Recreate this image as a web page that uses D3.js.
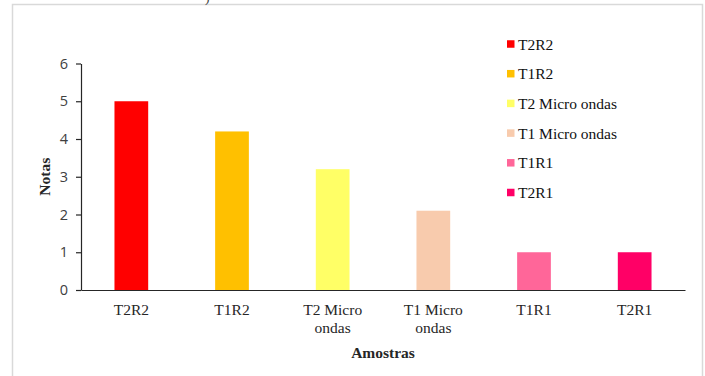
<!DOCTYPE html>
<html><head><meta charset="utf-8">
<script src="https://cdn.jsdelivr.net/npm/d3@7"></script>
<style>
html,body{margin:0;padding:0;background:#fff;}
.serif{font-family:"Liberation Serif","Times New Roman",Times,serif;}
.sans{font-family:"Open Sans","Noto Sans",sans-serif;}
</style>
</head><body>
<script>
const categories = ["T2R2","T1R2","T2 Micro ondas","T1 Micro ondas","T1R1","T2R1"];
const axisLabels = [["T2R2"],["T1R2"],["T2 Micro","ondas"],["T1 Micro","ondas"],["T1R1"],["T2R1"]];
const values = [5, 4.2, 3.2, 2.1, 1, 1];
const colors = ["#FF0000","#FFC000","#FFFF66","#F8CBAD","#FF6699","#FF0066"];
const yTicks = [0,1,2,3,4,5,6];

const W = 705, H = 376;
const svg = d3.select("body").append("svg").attr("width", W).attr("height", H);

// outer frame
svg.append("rect").attr("x", 12.5).attr("y", 4.5).attr("width", 690).attr("height", 400)
  .attr("fill", "none").attr("stroke", "#d9d9d9").attr("stroke-width", 1.5);
// partial caption remnant at top
svg.append("text").attr("class","serif").attr("x", 205).attr("y", 2)
  .attr("font-size", 14).attr("fill", "#444").text(")");

const x0 = 81, x1 = 685, yBase = 290, yTop = 63.5;
const x = d3.scaleBand().domain(categories).range([x0, x1]).paddingInner(0.665).paddingOuter(0.3325);
const y = d3.scaleLinear().domain([0, 6]).range([yBase, yTop]);

// bars
svg.selectAll("rect.bar").data(values).join("rect").attr("class","bar")
  .attr("x", (d,i) => x(categories[i]))
  .attr("width", x.bandwidth())
  .attr("y", d => y(d))
  .attr("height", d => y(0) - y(d))
  .attr("fill", (d,i) => colors[i]);

// y axis
const yAxis = svg.append("g").attr("transform", `translate(${x0},0)`)
  .call(d3.axisLeft(y).tickValues(yTicks).tickFormat(d3.format("d")).tickSize(5).tickSizeOuter(0).tickPadding(8));
yAxis.attr("font-family", null);
yAxis.select(".domain").attr("stroke", "#262626").attr("stroke-width", 1.2);
yAxis.selectAll(".tick line").attr("stroke", "#262626").attr("stroke-width", 1.2);
yAxis.selectAll(".tick text").attr("class","sans").attr("font-size", 14.5).attr("fill", "#404040");

// x axis
const xAxis = svg.append("g").attr("transform", `translate(0,${yBase})`)
  .call(d3.axisBottom(x).tickSize(0).tickFormat(""));
xAxis.attr("font-family", null);
xAxis.select(".domain").attr("stroke", "#262626").attr("stroke-width", 1.2);
xAxis.selectAll(".tick").each(function(d, i) {
  const t = d3.select(this).append("text").attr("class","serif")
    .attr("font-size", 15.5).attr("fill", "#262626").attr("text-anchor", "middle");
  axisLabels[i].forEach((line, j) => {
    t.append("tspan").attr("x", 0).attr("y", 25 + j * 17.5).text(line);
  });
});

// axis titles
svg.append("text").attr("class","serif").attr("x", 383).attr("y", 358).attr("text-anchor", "middle")
  .attr("font-weight", "bold").attr("font-size", 15.5)
  .attr("fill", "#262626").text("Amostras");
svg.append("text").attr("class","serif").attr("transform", `translate(50,${(yBase + yTop) / 2}) rotate(-90)`)
  .attr("text-anchor", "middle").attr("font-weight", "bold")
  .attr("font-size", 15.5).attr("fill", "#262626").text("Notas");

// legend
const leg = svg.append("g");
categories.forEach((c, i) => {
  const cy = 44 + i * 29.7;
  leg.append("rect").attr("x", 507).attr("y", cy - 3.75).attr("width", 7.5).attr("height", 7.5).attr("fill", colors[i]);
  leg.append("text").attr("class","serif").attr("x", 518).attr("y", cy + 5.5)
    .attr("font-size", 15.5).attr("fill", "#111").text(c);
});
</script>
</body></html>
